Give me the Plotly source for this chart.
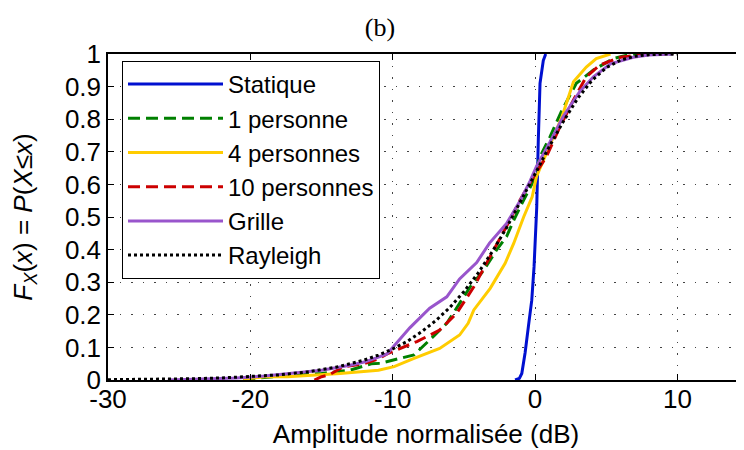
import plotly.graph_objects as go

# ---- data ----
statique_x = [-1.4, -1.1, -0.93, -0.7, -0.47, -0.23, -0.07, 0.05, 0.12, 0.23, 0.35, 0.58, 0.75]
statique_y = [0.0, 0.005, 0.02, 0.083, 0.163, 0.245, 0.347, 0.45, 0.53, 0.736, 0.91, 0.98, 1.0]

p1_x = [-20.5, -19, -17, -15, -13, -11.5, -10.9, -9.5, -8.5, -7.4, -6.2, -5.3, -4.55, -3.6, -2.7, -2.0,
        -1.5, -0.8, -0.2, 0.35, 1.05, 1.9, 2.9, 4.1, 5.5, 6.7, 9.7]
p1_y = [0.0, 0.008, 0.015, 0.02, 0.03, 0.05, 0.051, 0.066, 0.077, 0.123, 0.174, 0.235, 0.286, 0.337, 0.399, 0.44,
        0.49, 0.552, 0.603, 0.685, 0.746, 0.828, 0.91, 0.951, 0.986, 0.999, 1.0]

p4_x = [-20.5, -19, -17.4, -15, -13.7, -11, -10.4, -9.9, -8.5, -6.7, -5.3, -4.7, -4.3, -3.15, -2.1, -1.5,
        -0.8, -0.2, 0.1, 0.8, 1.9, 2.7, 3.6, 4.3, 5.3]
p4_y = [0.003, 0.01, 0.01, 0.015, 0.02, 0.03, 0.036, 0.041, 0.066, 0.097, 0.138, 0.174, 0.215, 0.281, 0.358, 0.419,
        0.5, 0.562, 0.624, 0.695, 0.808, 0.915, 0.96, 0.986, 1.0]

p10_x = [-15.5, -15, -14.5, -13.5, -12, -11, -10.4, -9.7, -8.3, -6.7, -5.5, -4.3, -3.15, -1.9, -1.05, -0.1,
         0.8, 1.75, 2.7, 3.6, 4.55, 6.0, 7.8, 9.7]
p10_y = [0.0, 0.01, 0.015, 0.04, 0.05, 0.065, 0.08, 0.092, 0.118, 0.153, 0.205, 0.286, 0.378, 0.48, 0.552, 0.624,
         0.685, 0.777, 0.859, 0.93, 0.966, 0.99, 1.0, 1.0]

grille_x = [-25.8, -23, -21, -19, -17, -15, -13, -12, -11, -10.4, -10, -9.7, -8.8, -7.4, -6.2, -5.3, -4.1, -3.2,
            -2.0, -1.05, -0.35, 0.1, 1.05, 2.0, 3.15, 4.1, 5.3, 6.9, 8.0, 9.7]
grille_y = [0.0, 0.003, 0.006, 0.012, 0.02, 0.03, 0.045, 0.055, 0.07, 0.08, 0.1, 0.115, 0.16, 0.22, 0.255, 0.31,
            0.36, 0.42, 0.48, 0.55, 0.61, 0.655, 0.73, 0.81, 0.885, 0.93, 0.97, 0.99, 0.997, 1.0]

rayleigh_x = [-30, -28, -26, -24, -22, -20, -18, -16, -14, -12, -11, -10, -9, -8, -7, -6, -5, -4, -3, -2, -1,
              0, 1, 2, 3, 4, 5, 6, 7, 8, 9, 10]
rayleigh_y = [0.001, 0.0016, 0.0025, 0.004, 0.0063, 0.00995, 0.0157, 0.0248, 0.039, 0.061, 0.0764, 0.0952, 0.118,
              0.147, 0.181, 0.222, 0.271, 0.328, 0.394, 0.467, 0.548, 0.632, 0.716, 0.794, 0.864, 0.919, 0.958,
              0.981, 0.993, 0.998, 0.9996, 1.0]

x_ticks = [-30, -20, -10, 0, 10]
x_tick_labels = ["-30", "-20", "-10", "0", "10"]
y_ticks = [0, 0.1, 0.2, 0.3, 0.4, 0.5, 0.6, 0.7, 0.8, 0.9, 1]
y_tick_labels = ["0", "0.1", "0.2", "0.3", "0.4", "0.5", "0.6", "0.7", "0.8", "0.9", "1"]

series = [
    ("Statique", statique_x, statique_y, "#0010d0", "solid"),
    ("1 personne", p1_x, p1_y, "#008000", "12px,6px"),
    ("4 personnes", p4_x, p4_y, "#ffcc00", "solid"),
    ("10 personnes", p10_x, p10_y, "#cc0000", "12px,6px"),
    ("Grille", grille_x, grille_y, "#9955cc", "solid"),
    ("Rayleigh", rayleigh_x, rayleigh_y, "#000000", "3px,3px"),
]

FONT = "Liberation Sans, Arial, sans-serif"
W, H = 736, 442  # page body adds an 8px margin in the 744x450 window

fig = go.Figure()
for name, xs, ys, col, dash in series:
    fig.add_trace(go.Scatter(x=xs, y=ys, mode="lines", name=name,
                             line=dict(color=col, width=3, dash=dash)))

axis_common = dict(
    showline=True, linecolor="black", linewidth=1.5,
    ticks="inside", ticklen=6, tickwidth=1, tickcolor="black",
    showgrid=True, gridcolor="#444444", gridwidth=1, griddash="1.5px,10px",
    zeroline=False, automargin=False,
    tickfont=dict(family=FONT, size=26, color="black"),
)

fig.update_layout(
    width=W, height=H,
    margin=dict(l=100, r=0, t=46, b=70),
    paper_bgcolor="white", plot_bgcolor="white",
    title=dict(text="(b)", x=372 / W, xanchor="center", y=1 - 19 / H, yanchor="middle",
               font=dict(family="Liberation Serif, Times New Roman, serif", size=26, color="black")),
    xaxis=dict(range=[-30, 14.68], tickvals=x_ticks, ticktext=x_tick_labels, mirror="ticks",
               ticklabelstandoff=-5,
               title=dict(text="Amplitude normalisée (dB)", font=dict(family=FONT, size=26, color="black"),
                          standoff=12),
               **axis_common),
    yaxis=dict(range=[0, 1], tickvals=y_ticks, ticktext=y_tick_labels, mirror=False,
               title=dict(text="<i>F</i><sub><i>X</i></sub>(<i>x</i>) = <i>P</i>(<i>X</i>≤<i>x</i>)",
                          font=dict(family=FONT, size=26, color="black"), standoff=29),
               **axis_common),
    legend=dict(x=(122 - 108) / 636, y=(380 - 61) / 326, xanchor="left", yanchor="top",
                bgcolor="white", bordercolor="black", borderwidth=1,
                font=dict(family=FONT, size=24, color="black"), itemwidth=95),
    showlegend=True,
)

fig.write_html("out.html")
